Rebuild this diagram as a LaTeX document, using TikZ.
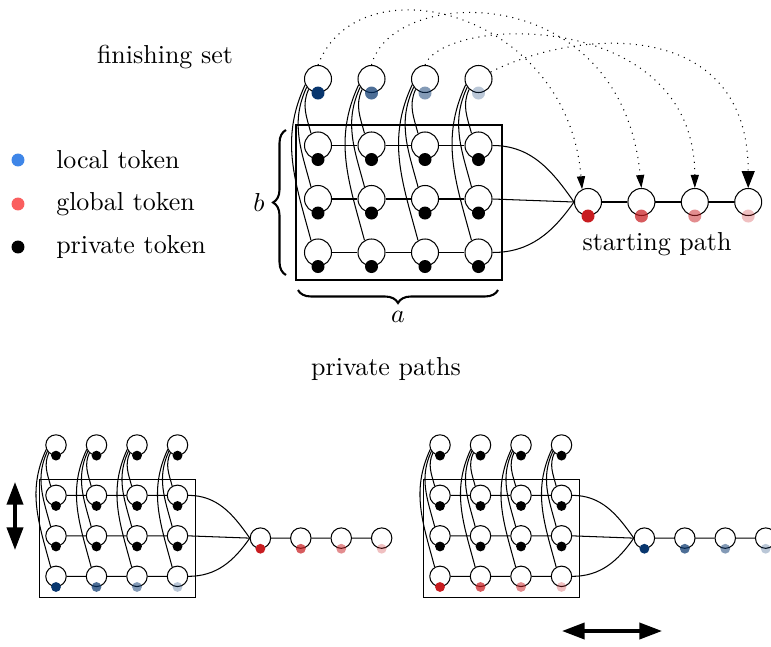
\documentclass[tikz,border=0pt]{standalone}
\usepackage{tikz}
\usetikzlibrary{arrows.meta, positioning, calc, decorations.pathreplacing}

\definecolor{navy}{HTML}{08366E}
\definecolor{tokred}{HTML}{C81C20}
\definecolor{lblue}{HTML}{3F86E8}
\definecolor{lred}{HTML}{FA5F5F}

\begin{document}
\begin{tikzpicture} [
    x=0.385pt, y=0.385pt,
    state/.style={circle, draw=black, inner sep=0pt, minimum size=10.4pt},
    tok/.style={circle, inner sep=0pt, minimum size=5pt},
    tok navy/.style={tok, fill=navy, fill opacity=#1},
    tok red/.style={tok, fill=tokred, fill opacity=#1},
    tok blk/.style={tok, fill=black},
    jump/.style={dotted, -{Triangle[width=3.1pt, length=5pt]}},
    bigjump/.style={dotted, -{Triangle[width=5pt, length=6.5pt]}},
    move/.style={line width=1.3pt, {Triangle[width=6.2pt, length=8.7pt]}-{Triangle[width=6.2pt, length=8.7pt]}},
    brace/.style={decorate, decoration={brace, amplitude=5pt}, thick}
]
\useasboundingbox (0,0) rectangle (771,646);

% the three token graphs (top one, then the two private paths)
\foreach \pre/\sx/\sy/\sc/\fin/\low/\pth in {T/318/567/1/navy/blk/red, L/56/201/0.757/blk/navy/red, R/440/201/0.757/blk/red/navy} {
\begin{scope}[shift={(\sx,\sy)}, scale=\sc, transform shape]
    \foreach \j in {1,...,4} {
        \node[state] (\pre f\j) at ({53.5*(\j-1)}, 0) {};
        \node[state] (\pre g1\j) at ({53.5*(\j-1)}, -66.5) {};
        \node[state] (\pre g2\j) at ({53.5*(\j-1)}, -120) {};
        \node[state] (\pre g3\j) at ({53.5*(\j-1)}, -173.5) {};
        \node[state] (\pre p\j) at ({270+53.4*(\j-1)}, -123) {};
    }
    \coordinate (\pre bnw) at (-22,-46);
    \coordinate (\pre bse) at (184,-201);
    \draw (\pre bnw) rectangle (\pre bse);

    % finishing set down to every row
    \foreach \j in {1,...,4}
        \foreach \i/\a in {1/228, 2/216, 3/204}
            \draw (\pre f\j.\a) to[out=245, in=105] (\pre g\i\j.120);

    % rows and path
    \foreach \i in {1,2,3}
        \foreach \j [count=\k from 2] in {1,2,3}
            \draw (\pre g\i\j) -- (\pre g\i\k);
    \foreach \j [count=\k from 2] in {1,2,3}
        \draw (\pre p\j) -- (\pre p\k);
    \draw (\pre g14.east) to[out=0, in=125] (\pre p1.west);
    \draw (\pre g24.east) -- (\pre p1.west);
    \draw (\pre g34.east) to[out=0, in=235] (\pre p1.west);

    % tokens
    \foreach \j/\op in {1/1, 2/0.72, 3/0.5, 4/0.28} {
        \node[tok \fin=\op] (\pre df\j) at (\pre f\j.south) {};
        \node[tok blk=1] (\pre d1\j) at (\pre g1\j.south) {};
        \node[tok blk=1] (\pre d2\j) at (\pre g2\j.south) {};
        \node[tok \low=\op] (\pre d3\j) at (\pre g3\j.south) {};
        \node[tok \pth=\op] (\pre dp\j) at (\pre p\j.south) {};
    }
\end{scope}
}

% finishing set back to the starting path
\draw[jump] (Tf1.north) .. controls +(40,105) and +(-15,180) .. (Tp1.115);
\draw[jump] (Tf2.north) .. controls +(20,80) and +(-20,210) .. (Tp2.north);
\draw[jump] (Tf3.north) .. controls +(20,50) and +(0,180) .. (Tp3.north);
\draw[bigjump] (Tf4.30) .. controls +(90,45) and +(0,170) .. (Tp4.north);

\draw[brace] ($(Tbnw |- Tbse)+(-10,5)$) -- ($(Tbnw)+(-10,-5)$) node[midway, left=4.5pt] {$b$};
\draw[brace] ($(Tbse)+(-4,-10)$) -- ($(Tbnw |- Tbse)+(2,-10)$) node[midway, below=4.5pt] {$a$};

\node (finlabel) at (165,589) {finishing set};
\node (startlabel) at (657,402) {starting path};
\node (privlabel) at (386,277) {private paths};

% legend
\node[tok, fill=lblue] (klocal) at (18,486) {};
\node[tok, fill=lred] (kglobal) at (18,442) {};
\node[tok, fill=black] (kprivate) at (18,399) {};
\node[right=8.5pt of klocal] (tlocal) {local token};
\node[right=8.5pt of kglobal] (tglobal) {global token};
\node[right=8.5pt of kprivate] (tprivate) {private token};

% moves
\coordinate (vlo) at (15,96);
\coordinate (vhi) at (15,164);
\draw[move] (vlo) -- (vhi);
\coordinate (hlo) at (562,15);
\coordinate (hhi) at (662,15);
\draw[move] (hlo) -- (hhi);

\end{tikzpicture}
\end{document}
